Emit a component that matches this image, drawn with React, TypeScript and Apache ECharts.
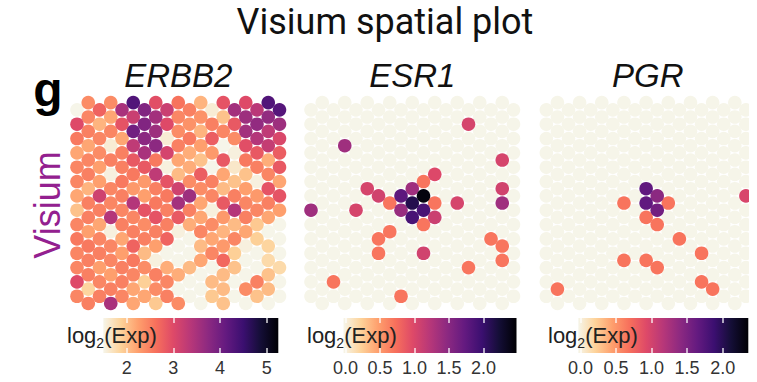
import React, { useEffect, useRef } from "react";
import * as echarts from "echarts";

// ---------- data ----------
const geneNames = ["ERBB2", "ESR1", "PGR"];
const rowLabel = "Visium";
const panelTag = "g";
const chartTitle = "Visium spatial plot";
const colorbarTitle = "log2(Exp)";

// magma colour map, reversed (palest end = lowest expression)
const magmaReversed = [
  "#f6f5e9", "#fdd39a", "#fe9f6d", "#f7705c", "#de4968", "#b73779",
  "#8c2981", "#641a80", "#3b0f70", "#140e36", "#000004",
];

const colorbarRanges: [number, number][] = [
  [1.5, 5.25],
  [-0.03, 2.48],
  [-0.03, 2.36],
];
const colorMapMin = [1.5, 0, 0];
const erbb2Ticks = [2, 3, 4, 5];
const esr1Ticks = [0, 0.5, 1, 1.5, 2];
const pgrTicks = [0, 0.5, 1, 1.5, 2];
const tickDecimals = [0, 1, 1];

// hexagonal Visium lattice: 29 rows, 19 half-columns
const nRows = 29;
const nCols = 19;

// ERBB2 values, row by row (columns with (col + row) odd, left to right)
const erbb2Rows: number[][] = [
  [2.4, 2.4, 4.3, 2.95, 2.6, 2.1, 2.9, 3.0, 4.3],
  [1.5, 2.75, 3.5, 3.85, 3.2, 2.5, 1.6, 3.55, 3.35, 4.25],
  [2.45, 2.2, 3.2, 3.55, 2.45, 2.35, 2.0, 3.6, 3.7],
  [3.0, 2.1, 2.9, 3.85, 3.0, 2.35, 2.5, 2.85, 3.7, 3.6],
  [2.5, 2.45, 4.0, 3.6, 2.4, 2.1, 2.45, 3.55, 3.3],
  [2.55, 2.45, 2.2, 3.75, 1.6, 2.55, 2.8, 2.4, 3.4, 3.05],
  [2.2, 1.6, 3.3, 3.75, 2.5, 2.25, 1.5, 2.95, 3.25],
  [2.2, 2.4, 2.5, 3.5, 3.1, 2.15, 2.3, 1.55, 2.85, 2.8],
  [2.45, 2.5, 2.85, 2.55, 2.2, 2.0, 2.85, 2.55, 2.15],
  [2.45, 2.25, 2.5, 2.85, 1.55, 2.15, 1.5, 1.65, 2.5, 2.85],
  [2.5, 1.55, 2.55, 3.3, 2.05, 2.8, 2.2, 2.0, 2.45],
  [2.45, 2.25, 2.55, 2.3, 2.9, 2.4, 2.5, 2.0, 1.55, 2.2],
  [2.1, 2.45, 2.3, 2.5, 3.15, 2.4, 2.05, 2.25, 2.9],
  [2.2, 3.15, 2.5, 2.25, 2.55, 3.6, 2.45, 2.5, 2.3, 2.9],
  [2.5, 2.45, 3.4, 2.55, 3.55, 2.2, 2.85, 2.45, 2.5],
  [2.0, 2.5, 2.45, 2.9, 2.5, 2.5, 1.55, 3.4, 2.45, 2.25],
  [2.5, 3.4, 2.45, 2.9, 2.85, 2.2, 2.3, 2.5, 2.2],
  [2.45, 2.2, 2.5, 2.4, 2.5, 2.15, 2.4, 2.05, 1.95, 1.5],
  [2.25, 1.55, 2.5, 2.5, 1.55, 2.45, 2.1, 2.2, 1.5],
  [2.55, 2.45, 2.2, 2.5, 2.75, 1.5, 2.2, 2.45, 1.9, 1.5],
  [2.55, 2.45, 2.75, 2.25, 1.5, 2.05, 2.3, 1.55, 1.85],
  [2.45, 2.5, 2.25, 2.05, 1.5, 1.5, 2.45, 1.9, 1.5, 1.5],
  [2.5, 2.45, 2.55, 1.55, 1.5, 2.2, 2.7, 1.5, 1.8],
  [2.45, 2.25, 2.5, 2.4, 2.15, 2.05, 1.5, 2.0, 1.5, 1.8],
  [2.5, 2.25, 2.45, 2.5, 2.15, 1.5, 2.05, 1.5, 2.0],
  [3.0, 2.45, 2.5, 1.9, 2.45, 1.5, 2.05, 1.5, 2.5, 1.5],
  [1.85, 2.5, 2.2, 2.4, 1.5, 1.5, 2.05, 2.4, 2.05],
  [2.45, 2.5, 2.45, 2.2, 2.5, 1.5, 1.95, 1.5, 2.0, 1.5],
  [2.5, 3.5, 2.2, 1.95, 2.4, 1.5, 2.0, 1.5, 1.5],
];

// ESR1 expressing spots: [column, row, value]; all other spots are 0
const esr1Spots: number[][] = [
  [14, 3, 1.05], [3, 6, 1.38], [17, 8, 1.05], [11, 10, 1.0], [10, 11, 0.72],
  [5, 12, 1.05], [9, 12, 1.38], [17, 12, 1.08], [6, 13, 1.08], [8, 13, 1.78],
  [10, 13, 2.43], [7, 14, 0.72], [9, 14, 2.13], [11, 14, 0.72], [13, 14, 1.05],
  [17, 14, 1.38], [0, 15, 1.38], [4, 15, 1.05], [8, 15, 1.42], [10, 15, 1.9],
  [9, 16, 1.9], [11, 16, 1.12], [10, 17, 0.72], [7, 18, 0.72], [6, 19, 0.72],
  [16, 19, 0.72], [17, 20, 0.72], [6, 21, 0.72], [10, 21, 1.08], [17, 22, 0.72],
  [14, 23, 0.72], [2, 25, 0.72], [8, 27, 0.72],
];

// PGR expressing spots: [column, row, value]; all other spots are 0
const pgrSpots: number[][] = [
  [9, 12, 1.67], [10, 13, 1.42], [18, 13, 0.98], [7, 14, 0.69], [9, 14, 1.67],
  [11, 14, 0.69], [10, 15, 1.57], [9, 16, 0.69], [10, 17, 0.69], [12, 19, 0.69],
  [14, 21, 0.69], [7, 22, 0.69], [9, 22, 0.69], [10, 23, 0.69], [14, 25, 0.69],
  [15, 26, 0.69], [1, 26, 0.69],
];

// ---------- helpers ----------
function latticeColumns(k: number): number[] {
  const cols: number[] = [];
  for (let c = k % 2 === 0 ? 1 : 0; c < nCols; c += 2) cols.push(c);
  return cols;
}

function buildDense(rows: number[][]): number[][] {
  const out: number[][] = [];
  rows.forEach((row, k) => {
    const cols = latticeColumns(k);
    row.forEach((v, i) => out.push([cols[i], k, v]));
  });
  return out.sort((a, b) => a[2] - b[2]);
}

function buildSparse(spots: number[][]): number[][] {
  const map = new Map<string, number>();
  spots.forEach(([c, k, v]) => map.set(c + "," + k, v));
  const out: number[][] = [];
  for (let k = 0; k < nRows; k++) {
    latticeColumns(k).forEach((c) => {
      const v = map.get(c + "," + k);
      out.push([c, k, v === undefined ? 0 : v]);
    });
  }
  return out.sort((a, b) => a[2] - b[2]);
}

const FONT = "'Liberation Sans', Arial, sans-serif";

export default function App() {
  const ref = useRef<HTMLDivElement>(null);

  useEffect(() => {
    if (!ref.current) return;
    const chart = echarts.init(ref.current, undefined, { renderer: "svg" });

    const panelData = [buildDense(erbb2Rows), buildSparse(esr1Spots), buildSparse(pgrSpots)];
    const ticks = [erbb2Ticks, esr1Ticks, pgrTicks];

    // layout
    const colPitch = 11.25;
    const rowPitch = 7.17;
    const panelLeft = [65.75, 299.75, 535.25];
    const panelTop = 95.5;
    const panelW = colPitch * (nCols + 1);
    const panelH = rowPitch * (nRows + 1);
    const cbLeft = [103.3, 343.5, 578.3];
    const cbWidth = [175, 173, 170];
    const cbTop = 318;
    const cbHeight = 35;
    const cbTextLeft = [67, 307, 548];

    const grids: any[] = [];
    const xAxes: any[] = [];
    const yAxes: any[] = [];
    const series: any[] = [];

    for (let i = 0; i < 3; i++) {
      grids.push({ left: panelLeft[i], top: panelTop, width: panelW, height: panelH });
      xAxes.push({ type: "value", gridIndex: i, min: -1, max: nCols, show: false });
      yAxes.push({ type: "value", gridIndex: i, min: -1, max: nRows, inverse: true, show: false });
    }
    for (let i = 0; i < 3; i++) {
      grids.push({ left: cbLeft[i], top: cbTop, width: cbWidth[i], height: cbHeight });
    }
    for (let i = 0; i < 3; i++) {
      xAxes.push({
        type: "value",
        gridIndex: 3 + i,
        position: "bottom",
        min: colorbarRanges[i][0],
        max: colorbarRanges[i][1],
        z: 10,
        axisLine: { show: false },
        splitLine: { show: false },
        axisTick: {
          show: true,
          inside: true,
          length: 5,
          customValues: ticks[i],
          lineStyle: { color: "rgba(255,255,255,0.85)", width: 1.5 },
        },
        axisLabel: {
          show: true,
          customValues: ticks[i],
          margin: 6,
          fontSize: 18,
          fontFamily: FONT,
          color: "#333",
          formatter: (v: number) => v.toFixed(tickDecimals[i]),
        },
      });
    }
    for (let i = 0; i < 3; i++) {
      xAxes.push({
        type: "value",
        gridIndex: 3 + i,
        position: "top",
        min: colorbarRanges[i][0],
        max: colorbarRanges[i][1],
        z: 10,
        axisLine: { show: false },
        splitLine: { show: false },
        axisLabel: { show: false },
        axisTick: {
          show: true,
          inside: true,
          length: 5,
          customValues: ticks[i],
          lineStyle: { color: "rgba(255,255,255,0.85)", width: 1.5 },
        },
      });
    }
    for (let i = 0; i < 3; i++) {
      yAxes.push({ type: "value", gridIndex: 3 + i, min: 0, max: 1, show: false });
    }

    for (let i = 0; i < 3; i++) {
      series.push({
        type: "scatter",
        xAxisIndex: i,
        yAxisIndex: i,
        data: panelData[i],
        symbol: "circle",
        symbolSize: 13.6,
        silent: true,
        itemStyle: { opacity: 1 },
      });
    }
    const gradStops = magmaReversed.map((c, j) => ({ offset: j / (magmaReversed.length - 1), color: c }));
    for (let i = 0; i < 3; i++) {
      series.push({
        type: "custom",
        xAxisIndex: 3 + i,
        yAxisIndex: 3 + i,
        z: 1,
        silent: true,
        data: [[colorbarRanges[i][0], colorbarRanges[i][1]]],
        renderItem: (_params: any, api: any) => {
          const p0 = api.coord([api.value(0), 1]);
          const p1 = api.coord([api.value(1), 0]);
          return {
            type: "rect",
            shape: { x: p0[0], y: p0[1], width: p1[0] - p0[0], height: p1[1] - p0[1] },
            style: { fill: new echarts.graphic.LinearGradient(0, 0, 1, 0, gradStops) },
          };
        },
      });
    }

    const graphic: any[] = [
      {
        type: "text", x: 385, y: 22, z: 100,
        style: { text: chartTitle, fontSize: 36, fontFamily: "Roboto, sans-serif", fill: "#111", align: "center", verticalAlign: "middle" },
      },
      {
        type: "text", x: 48, y: 89, z: 100,
        style: { text: panelTag, fontSize: 48, fontWeight: "bold", fontFamily: FONT, fill: "#000", align: "center", verticalAlign: "middle" },
      },
      {
        type: "text", x: 47, y: 205, z: 100, rotation: Math.PI / 2,
        style: { text: rowLabel, fontSize: 36, fontFamily: FONT, fill: "#93208f", align: "center", verticalAlign: "middle" },
      },
      {
        type: "rect", z: 90, shape: { x: 749, y: 88, width: 12, height: 232 },
        style: { fill: "#ffffff" },
      },
    ];
    for (let i = 0; i < 3; i++) {
      graphic.push({
        type: "text", x: panelLeft[i] + panelW / 2, y: 75, z: 100,
        style: { text: geneNames[i], fontSize: 33, fontStyle: "italic", fontFamily: FONT, fill: "#111", align: "center", verticalAlign: "middle" },
      });
      const base = colorbarTitle.slice(0, 3);
      const sub = colorbarTitle.slice(3, 4);
      const rest = colorbarTitle.slice(4);
      graphic.push({
        type: "text", x: cbTextLeft[i], y: 335, z: 100,
        style: {
          text: `{a|${base}}{b|${sub}}{a|${rest}}`,
          align: "left",
          verticalAlign: "middle",
          rich: {
            a: { fontSize: 22, fontFamily: FONT, fill: "#222", color: "#222", lineHeight: 24 },
            b: { fontSize: 14, fontFamily: FONT, fill: "#222", color: "#222", lineHeight: 14, padding: [16, 0, 0, 0] },
          },
        },
      });
    }

    chart.setOption({
      animation: false,
      backgroundColor: "#ffffff",
      grid: grids,
      xAxis: xAxes,
      yAxis: yAxes,
      visualMap: [0, 1, 2].map((i) => ({
        type: "continuous",
        show: false,
        seriesIndex: i,
        dimension: 2,
        min: colorMapMin[i],
        max: colorbarRanges[i][1],
        inRange: { color: magmaReversed },
      })),
      series,
      graphic,
    });

    return () => chart.dispose();
  }, []);

  return (
    <div
      ref={ref}
      style={{ position: "absolute", left: 0, top: 0, width: 757, height: 382, background: "#fff" }}
    />
  );
}
